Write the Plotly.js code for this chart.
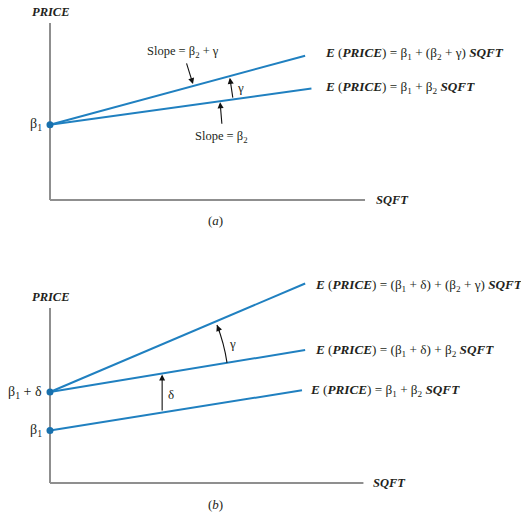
<!DOCTYPE html>
<html>
<head>
<meta charset="utf-8">
<script src="https://cdn.plot.ly/plotly-3.0.1.min.js"></script>
<style>html,body{margin:0;padding:0;background:#fff;}#chart{width:521px;height:512px;}</style>
</head>
<body>
<div id="chart"></div>
<script>
// ---- Data (in SQFT / PRICE units of each panel) ----
// Panel (a)
const aBaseX = [0, 8.3];          // E(PRICE) = b1 + b2 SQFT
const aBaseY = [4.25, 6.3];
const aSlopeX = [0, 8.1];         // E(PRICE) = b1 + (b2+g) SQFT
const aSlopeY = [4.25, 8.15];
const aInterceptY = [4.25];       // beta1
// Panel (b)
const bBaseX = [0, 8.0];          // E(PRICE) = b1 + b2 SQFT
const bBaseY = [3.0, 5.3];
const bShiftX = [0, 8.1];         // E(PRICE) = (b1+d) + b2 SQFT
const bShiftY = [5.2, 7.6];
const bBothX = [0, 8.1];          // E(PRICE) = (b1+d) + (b2+g) SQFT
const bBothY = [5.2, 11.4];
const bInterceptY = [3.0, 5.2];   // beta1, beta1 + delta
// Labels
const eqA = [
  '<b><i>E</i></b> (<b><i>PRICE</i></b>) = β<sub>1</sub> + (β<sub>2</sub> + γ) <b><i>SQFT</i></b>',
  '<b><i>E</i></b> (<b><i>PRICE</i></b>) = β<sub>1</sub> + β<sub>2</sub> <b><i>SQFT</i></b>'
];
const eqB = [
  '<b><i>E</i></b> (<b><i>PRICE</i></b>) = (β<sub>1</sub> + δ) + (β<sub>2</sub> + γ) <b><i>SQFT</i></b>',
  '<b><i>E</i></b> (<b><i>PRICE</i></b>) = (β<sub>1</sub> + δ) + β<sub>2</sub> <b><i>SQFT</i></b>',
  '<b><i>E</i></b> (<b><i>PRICE</i></b>) = β<sub>1</sub> + β<sub>2</sub> <b><i>SQFT</i></b>'
];
const interceptLabelsA = ['β<sub>1</sub>'];
const interceptLabelsB = ['β<sub>1</sub>', 'β<sub>1</sub> + δ'];
const axisTitles = ['<b><i>PRICE</i></b>', '<b><i>SQFT</i></b>'];
const panelTags = ['(<i>a</i>)', '(<i>b</i>)'];
const slopeLabels = ['Slope = β<sub>2</sub> + γ', 'Slope = β<sub>2</sub>'];

const BLUE = '#2080c0';
const DOT = '#1870ad';
const GRAY = '#8f8f8f';
const TXT = '#231f20';
const FONT = 'Liberation Serif, Times New Roman, serif';

function line(x, y, xa, ya) {
  return {x: x, y: y, xaxis: xa, yaxis: ya, mode: 'lines', type: 'scatter',
    line: {color: BLUE, width: 2}, hoverinfo: 'skip'};
}
function dots(y, xa, ya) {
  return {x: y.map(() => 0), y: y, xaxis: xa, yaxis: ya, mode: 'markers', type: 'scatter',
    marker: {color: DOT, size: 7}, cliponaxis: false, hoverinfo: 'skip'};
}

const data = [
  line(aBaseX, aBaseY, 'x', 'y'),
  line(aSlopeX, aSlopeY, 'x', 'y'),
  dots(aInterceptY, 'x', 'y'),
  line(bBaseX, bBaseY, 'x2', 'y2'),
  line(bShiftX, bShiftY, 'x2', 'y2'),
  line(bBothX, bBothY, 'x2', 'y2'),
  dots(bInterceptY, 'x2', 'y2')
];

const f = (s) => ({family: FONT, size: s, color: TXT});
function txt(text, x, y, xr, yr, xanchor, size) {
  return {text: text, x: x, y: y, xref: xr, yref: yr, showarrow: false,
    xanchor: xanchor || 'center', yanchor: 'middle', font: f(size || 12.5)};
}
function arrow(x, y, ax, ay, xr, yr) {
  return {text: '', x: x, y: y, ax: ax, ay: ay, xref: xr, yref: yr, axref: xr, ayref: yr,
    showarrow: true, arrowhead: 2, arrowsize: 1.1, arrowwidth: 1.1, arrowcolor: '#111', standoff: 0, startstandoff: 0};
}

const annotations = [
  // Panel (a)
  txt(axisTitles[0], 0.03, 10.6, 'x', 'y', 'center', 12.5),
  txt(axisTitles[1], 10.3, 0, 'x', 'y', 'left', 12.5),
  txt(panelTags[0], 5.24, -1.13, 'x', 'y', 'center', 13),
  txt(interceptLabelsA[0], -0.2, aInterceptY[0], 'x', 'y', 'right', 14),
  txt(eqA[0], 8.67, 8.25, 'x', 'y', 'left', 13.2),
  txt(eqA[1], 8.67, 6.38, 'x', 'y', 'left', 13.2),
  txt(slopeLabels[0], 4.22, 8.36, 'x', 'y', 'center', 12.5),
  txt(slopeLabels[1], 5.46, 3.56, 'x', 'y', 'center', 12.5),
  txt('γ', 6.06, 6.33, 'x', 'y', 'center', 13),
  arrow(4.54, 6.55, 4.32, 7.80, 'x', 'y'),
  arrow(5.71, 6.9, 5.81, 5.70, 'x', 'y'),
  arrow(5.40, 5.52, 5.46, 4.22, 'x', 'y'),
  // Panel (b)
  txt(axisTitles[0], 0.03, 10.63, 'x2', 'y2', 'center', 12.5),
  txt(axisTitles[1], 10.2, 0, 'x2', 'y2', 'left', 12.5),
  txt(panelTags[1], 5.24, -1.22, 'x2', 'y2', 'center', 13),
  txt(interceptLabelsB[0], -0.2, bInterceptY[0], 'x2', 'y2', 'right', 14),
  txt(interceptLabelsB[1], -0.2, bInterceptY[1], 'x2', 'y2', 'right', 14),
  txt(eqB[0], 8.35, 11.31, 'x2', 'y2', 'left', 13.2),
  txt(eqB[1], 8.35, 7.6, 'x2', 'y2', 'left', 13.2),
  txt(eqB[2], 8.19, 5.31, 'x2', 'y2', 'left', 13.2),
  txt('δ', 3.85, 5.03, 'x2', 'y2', 'center', 13),
  txt('γ', 5.8, 8.0, 'x2', 'y2', 'center', 13),
  arrow(3.56, 6.2, 3.56, 4.06, 'x2', 'y2'),
  {text: '', x: 5.30, y: 9.03, xref: 'x2', yref: 'y2', ax: 3.3, ay: 8.4,
    showarrow: true, arrowhead: 2, arrowsize: 1.1, arrowwidth: 1.1, arrowcolor: '#111', standoff: 0}
];

const axLine = {color: GRAY, width: 2};
const shapes = [
  {type: 'line', xref: 'x', yref: 'y', x0: 0, y0: 0, x1: 0, y1: 10, line: axLine, layer: 'below'},
  {type: 'line', xref: 'x', yref: 'y', x0: 0, y0: 0, x1: 10, y1: 0, line: axLine, layer: 'below'},
  {type: 'line', xref: 'x2', yref: 'y2', x0: 0, y0: 0, x1: 0, y1: 10, line: axLine, layer: 'below'},
  {type: 'line', xref: 'x2', yref: 'y2', x0: 0, y0: 0, x1: 9.95, y1: 0, line: axLine, layer: 'below'},
  {type: 'path', xref: 'x2', yref: 'y2', path: 'M 5.62,6.86 Q 5.53,7.98 5.30,9.03',
    line: {color: '#111', width: 1.1}}
];

const hidden = {visible: false, showgrid: false, zeroline: false, fixedrange: true};
const layout = {
  width: 521, height: 512,
  margin: {l: 0, r: 0, t: 0, b: 0},
  paper_bgcolor: '#ffffff', plot_bgcolor: 'rgba(0,0,0,0)',
  showlegend: false,
  xaxis: Object.assign({domain: [0, 1], range: [-1.587, 14.952], anchor: 'y'}, hidden),
  yaxis: Object.assign({domain: [0.53125, 1], range: [-2.26, 11.299], anchor: 'x'}, hidden),
  xaxis2: Object.assign({domain: [0, 1], range: [-1.587, 14.952], anchor: 'y2'}, hidden),
  yaxis2: Object.assign({domain: [0, 0.53125], range: [-1.657, 13.886], anchor: 'x2'}, hidden),
  annotations: annotations,
  shapes: shapes
};

Plotly.newPlot('chart', data, layout, {staticPlot: true, displayModeBar: false});
</script>
</body>
</html>
